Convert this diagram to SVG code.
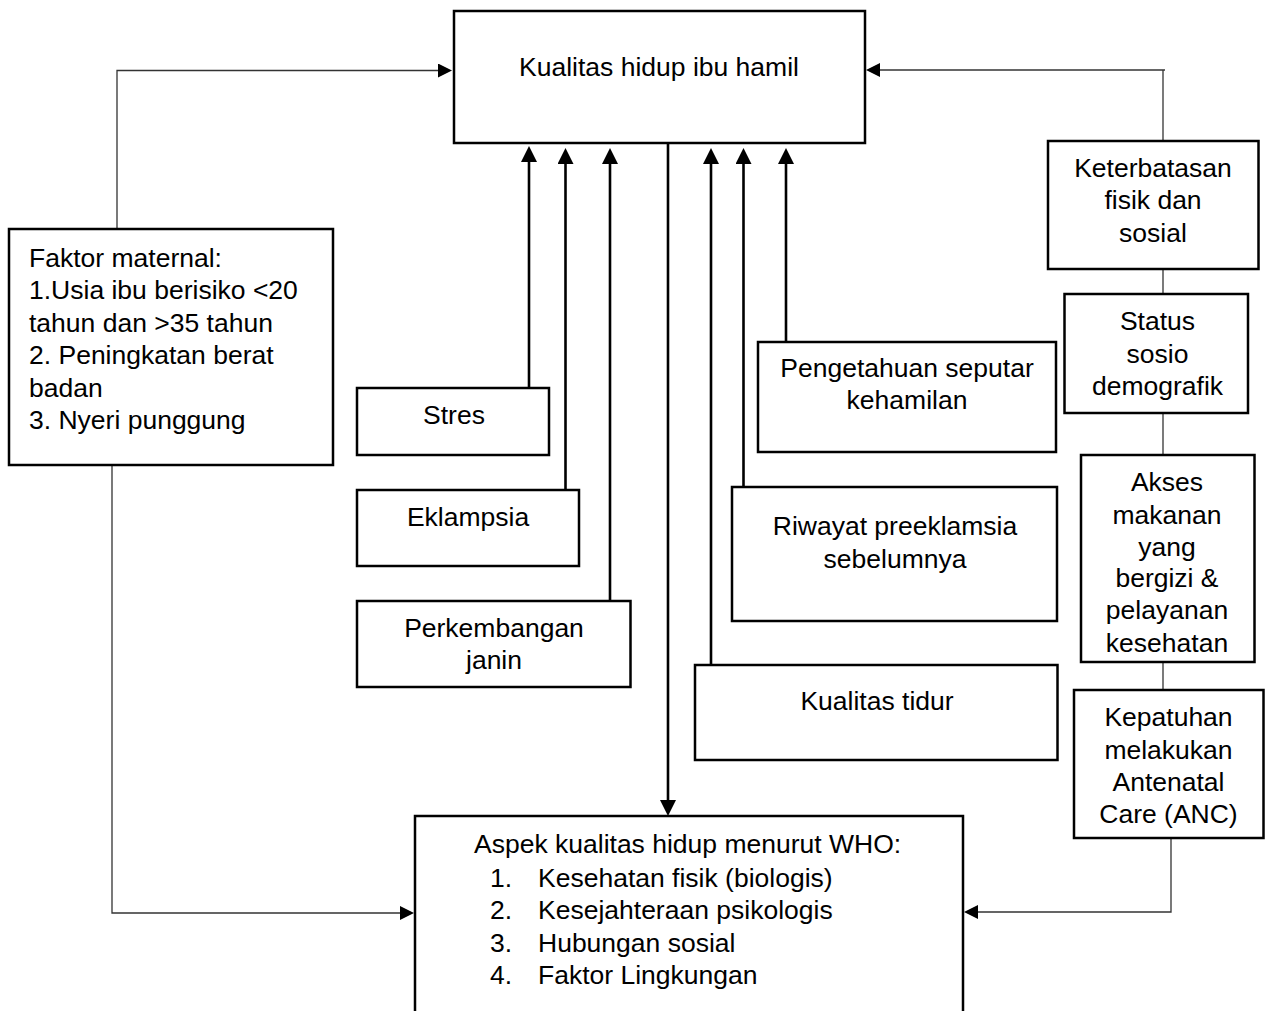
<svg xmlns="http://www.w3.org/2000/svg" width="1270" height="1011" viewBox="0 0 1270 1011">
<defs>
<style>
.box{fill:#fff;stroke:#000;stroke-width:2.5}
.t{font-family:"Liberation Sans",Arial,sans-serif;font-size:26.5px;fill:#000}
.c{text-anchor:middle}
.thick{fill:none;stroke:#000;stroke-width:2.6}
.thin{fill:none;stroke:#333;stroke-width:1.3}
</style>
<marker id="big" viewBox="0 0 16 16" refX="0" refY="8" markerWidth="16" markerHeight="16" markerUnits="userSpaceOnUse" orient="auto">
<path d="M0,0 L16,8 L0,16 z" fill="#000"/>
</marker>
<marker id="small" viewBox="0 0 14 14" refX="0" refY="7" markerWidth="14" markerHeight="14" markerUnits="userSpaceOnUse" orient="auto">
<path d="M0,0 L14,7 L0,14 z" fill="#000"/>
</marker>
</defs>
<rect width="1270" height="1011" fill="#fff"/>

<g id="connectors">
<path class="thin" d="M117,229 V70.5 H438" marker-end="url(#small)"/>
<path class="thin" d="M112,465 V913 H400" marker-end="url(#small)"/>
<path class="thin" d="M1165,70 H880" marker-end="url(#small)"/>
<path class="thin" d="M1163,70 V141"/>
<path class="thin" d="M1163,269 V294"/>
<path class="thin" d="M1163,413 V455"/>
<path class="thin" d="M1163,662 V690"/>
<path class="thin" d="M1171,838 V912 H978" marker-end="url(#small)"/>
<path class="thick" d="M668,143 V800" marker-end="url(#big)"/>
<path class="thick" d="M529,388 V162" marker-end="url(#big)"/>
<path class="thick" d="M565.5,490 V164" marker-end="url(#big)"/>
<path class="thick" d="M610,601 V164" marker-end="url(#big)"/>
<path class="thick" d="M711,665 V164" marker-end="url(#big)"/>
<path class="thick" d="M743.5,487 V164" marker-end="url(#big)"/>
<path class="thick" d="M786,342 V164" marker-end="url(#big)"/>
</g>

<g id="kualitas-hidup">
<rect class="box" x="454" y="11" width="411" height="132"/>
<text class="t c" x="659" y="76">Kualitas hidup ibu hamil</text>
</g>

<g id="faktor-maternal">
<rect class="box" x="9" y="229" width="324" height="236"/>
<text class="t" x="29" y="266.5">Faktor maternal:</text>
<text class="t" x="29" y="299">1.Usia ibu berisiko &lt;20</text>
<text class="t" x="29" y="331.5">tahun dan &gt;35 tahun</text>
<text class="t" x="29" y="364">2. Peningkatan berat</text>
<text class="t" x="29" y="396.5">badan</text>
<text class="t" x="29" y="429">3. Nyeri punggung</text>
</g>

<g id="stres">
<rect class="box" x="357" y="388" width="192" height="67"/>
<text class="t c" x="454" y="424">Stres</text>
</g>

<g id="eklampsia">
<rect class="box" x="357" y="490" width="222" height="76"/>
<text class="t c" x="468" y="526">Eklampsia</text>
</g>

<g id="perkembangan">
<rect class="box" x="357" y="601" width="273.5" height="86"/>
<text class="t c" x="494" y="636.5">Perkembangan</text>
<text class="t c" x="494" y="669">janin</text>
</g>

<g id="pengetahuan">
<rect class="box" x="758" y="342" width="298" height="110"/>
<text class="t c" x="907" y="376.5">Pengetahuan seputar</text>
<text class="t c" x="907" y="409">kehamilan</text>
</g>

<g id="riwayat">
<rect class="box" x="732" y="487" width="325" height="134"/>
<text class="t c" x="895" y="535">Riwayat preeklamsia</text>
<text class="t c" x="895" y="567.5">sebelumnya</text>
</g>

<g id="kualitas-tidur">
<rect class="box" x="695" y="665" width="362.5" height="95"/>
<text class="t c" x="877" y="710">Kualitas tidur</text>
</g>

<g id="keterbatasan">
<rect class="box" x="1048" y="141" width="210.5" height="128"/>
<text class="t c" x="1153" y="176.5">Keterbatasan</text>
<text class="t c" x="1153" y="209">fisik dan</text>
<text class="t c" x="1153" y="241.5">sosial</text>
</g>

<g id="status">
<rect class="box" x="1064.5" y="294" width="183.5" height="119"/>
<text class="t c" x="1157.5" y="330">Status</text>
<text class="t c" x="1157.5" y="362.5">sosio</text>
<text class="t c" x="1157.5" y="395">demografik</text>
</g>

<g id="akses">
<rect class="box" x="1081" y="455" width="173.5" height="207"/>
<text class="t c" x="1167" y="491">Akses</text>
<text class="t c" x="1167" y="523.5">makanan</text>
<text class="t c" x="1167" y="555.5">yang</text>
<text class="t c" x="1167" y="587">bergizi &amp;</text>
<text class="t c" x="1167" y="619">pelayanan</text>
<text class="t c" x="1167" y="651.5">kesehatan</text>
</g>

<g id="kepatuhan">
<rect class="box" x="1074" y="690" width="189.5" height="148"/>
<text class="t c" x="1168.5" y="726">Kepatuhan</text>
<text class="t c" x="1168.5" y="758.5">melakukan</text>
<text class="t c" x="1168.5" y="790.5">Antenatal</text>
<text class="t c" x="1168.5" y="822.5">Care (ANC)</text>
</g>

<g id="aspek-who">
<rect class="box" x="415" y="816" width="548" height="220"/>
<text class="t" x="474" y="853">Aspek kualitas hidup menurut WHO:</text>
<text class="t" x="490" y="886.5">1.</text>
<text class="t" x="538" y="886.5">Kesehatan fisik (biologis)</text>
<text class="t" x="490" y="919">2.</text>
<text class="t" x="538" y="919">Kesejahteraan psikologis</text>
<text class="t" x="490" y="951.5">3.</text>
<text class="t" x="538" y="951.5">Hubungan sosial</text>
<text class="t" x="490" y="984">4.</text>
<text class="t" x="538" y="984">Faktor Lingkungan</text>
</g>
</svg>
